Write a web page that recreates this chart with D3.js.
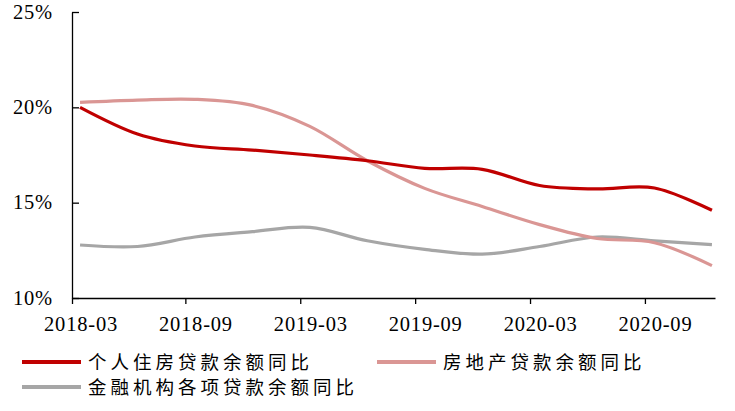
<!DOCTYPE html>
<html>
<head>
<meta charset="utf-8">
<script src="https://cdn.jsdelivr.net/npm/d3@7"></script>
<style>
    body { margin: 0; background: #fff; }
    .num { font-family: "Liberation Serif", "Times New Roman", serif; font-size: 20.5px; letter-spacing: 0.8px; fill: #000; }
    .leg { font-family: "Liberation Serif", "Noto Sans CJK SC", serif; font-size: 18.5px; letter-spacing: 4px; fill: #000; }
</style>
</head>
<body>
<svg class="MainSvg"></svg>
<script>
    // quarterly points, placed on a monthly date axis
    var dates = ["2018-03", "2018-06", "2018-09", "2018-12", "2019-03", "2019-06",
                 "2019-09", "2019-12", "2020-03", "2020-06", "2020-09", "2020-12"];
    var housing = [20.0, 18.6, 17.97, 17.76, 17.5, 17.2, 16.8, 16.75, 15.9, 15.72, 15.77, 14.6];
    var realEstate = [20.26, 20.38, 20.42, 20.1, 19.0, 17.2, 15.75, 14.8, 13.85, 13.12, 12.9, 11.7];
    var allLoans = [12.78, 12.7, 13.2, 13.48, 13.7, 13.0, 12.55, 12.3, 12.7, 13.2, 13.0, 12.8];
    var xLabels = ["2018-03", "2018-09", "2019-03", "2019-09", "2020-03", "2020-09"];
    var yTicks = [10, 15, 20, 25];

    var seriesList = [
        { name: "个人住房贷款余额同比", values: housing, color: "#C00000" },
        { name: "房地产贷款余额同比", values: realEstate, color: "#DA9694" },
        { name: "金融机构各项贷款余额同比", values: allLoans, color: "#A6A6A6" }
    ];

    var width = 735, height = 411;
    var plot = { left: 72, right: 715, top: 12, bottom: 298 };

    // month index counted from 2018-03
    function monthIndex(s) {
        var p = s.split("-");
        return (+p[0] - 2018) * 12 + (+p[1] - 3);
    }

    var x = d3.scaleLinear().domain([-0.42, 33.16]).range([plot.left, plot.right]);
    var y = d3.scaleLinear().domain([10, 25]).range([plot.bottom, plot.top]);

    var svg = d3.select(".MainSvg")
        .attr("width", width)
        .attr("height", height);

    // x axis: tick marks between months, labels at month centres
    var boundaries = [-0.42];
    xLabels.slice(1).forEach(function (d) { boundaries.push(monthIndex(d) - 0.5); });
    svg.append("g")
        .attr("transform", "translate(0," + plot.bottom + ")")
        .call(d3.axisBottom(x).tickValues(boundaries).tickSizeInner(6).tickSizeOuter(0).tickFormat(""))
        .call(function (g) {
            g.selectAll("path, line").attr("stroke", "#000").attr("stroke-width", 1.3);
        });

    svg.append("g").selectAll("text")
        .data(xLabels)
        .enter()
        .append("text")
        .attr("class", "num")
        .attr("x", function (d) { return x(monthIndex(d)) + 1; })
        .attr("y", 331)
        .attr("text-anchor", "middle")
        .text(function (d) { return d; });

    // y axis with inward ticks
    svg.append("g")
        .attr("transform", "translate(" + plot.left + ",0)")
        .call(d3.axisLeft(y).tickValues(yTicks).tickSizeInner(-7).tickSizeOuter(0).tickPadding(19)
            .tickFormat(function (d) { return d + "%"; }))
        .call(function (g) {
            g.selectAll("path, line").attr("stroke", "#000").attr("stroke-width", 1.3);
            g.selectAll("text").attr("class", "num").attr("font-size", null).attr("font-family", null)
                .attr("dy", "0.3em");
        });

    // lines
    var line = d3.line()
        .x(function (d, i) { return x(monthIndex(dates[i])); })
        .y(function (d) { return y(d); })
        .curve(d3.curveCardinal.tension(0));

    seriesList.slice().reverse().forEach(function (s) {
        svg.append("path")
            .datum(s.values)
            .attr("fill", "none")
            .attr("stroke", s.color)
            .attr("stroke-width", 3.2)
            .attr("d", line);
    });

    // legend
    var legendPos = [[22, 362], [377, 362], [22, 387]];
    var legend = svg.append("g").selectAll("g")
        .data(seriesList)
        .enter()
        .append("g")
        .attr("transform", function (d, i) { return "translate(" + legendPos[i][0] + "," + legendPos[i][1] + ")"; });
    legend.append("line")
        .attr("x1", 0).attr("x2", 59)
        .attr("stroke", function (d) { return d.color; })
        .attr("stroke-width", 4);
    legend.append("text")
        .attr("class", "leg")
        .attr("x", 66)
        .attr("y", 6.5)
        .text(function (d) { return d.name; });
</script>
</body>
</html>
